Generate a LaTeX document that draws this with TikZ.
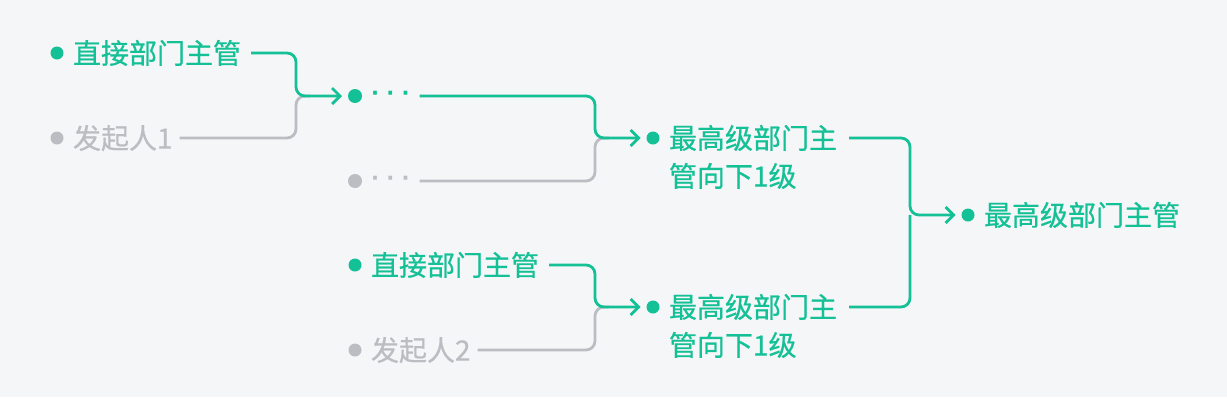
\documentclass[tikz,border=0pt]{standalone}
\usepackage{fontspec}
\setmainfont{Noto Sans CJK SC}[FakeBold=0.6]
\newfontfamily\dotfont{DejaVu Sans}
\usetikzlibrary{arrows.meta}
\definecolor{bgc}{HTML}{F5F6F8}
\definecolor{grc}{HTML}{14C095}
\definecolor{gyc}{HTML}{BCBDC2}
\begin{document}
\begin{tikzpicture}[x=1pt,y=-1pt,
  every node/.style={inner sep=0pt, outer sep=0pt},
  txt/.style={anchor=base west, font=\fontsize{28}{38}\selectfont},
  gtxt/.style={txt, text=grc},
  ytxt/.style={txt, text=gyc},
  ell/.style={anchor=west, font=\dotfont\bfseries\fontsize{21}{24}\selectfont},
  gdot/.style={circle, fill=grc, minimum size=13pt},
  ydot/.style={circle, fill=gyc, minimum size=13pt},
  gline/.style={draw=grc, line width=2.8pt, rounded corners=9pt},
  yline/.style={draw=gyc, line width=2.8pt, rounded corners=9pt},
  arr/.style={-{Straight Barb[length=8pt,width=16pt]}}
]
\fill[bgc] (0,0) rectangle (1227,397);

% nodes
\node[gdot] (Ad) at (57,53) {};
\node[gtxt] (A) at (73,63.6) {直接部门主管};
\node[ydot] (Bd) at (57,138) {};
\node[ytxt] (B) at (73,148.6) {发起人1};

\node[gdot, minimum size=14pt] (Cd) at (355,96) {};
\node[ell, text=grc] (C) at (371,96) {· · ·};
\node[ydot, minimum size=14pt] (Dd) at (355,181) {};
\node[ell, text=gyc] (D) at (371,181) {· · ·};

\node[gdot] (Ed) at (355,265) {};
\node[gtxt] (E) at (371,275.6) {直接部门主管};
\node[ydot] (Fd) at (355,350) {};
\node[ytxt] (F) at (371,360.6) {发起人2};

\node[gdot] (Gd) at (653,138) {};
\node[gtxt, align=left] (G) at (669,186.6) {最高级部门主\\管向下1级};
\node[gdot] (Hd) at (653,307) {};
\node[gtxt, align=left] (H) at (669,355.6) {最高级部门主\\管向下1级};

\node[gdot] (Id) at (968,215) {};
\node[gtxt] (I) at (984,225.6) {最高级部门主管};

% junctions
\coordinate (J1) at (296,96);
\coordinate (J2) at (595,138);
\coordinate (J3) at (595,307);
\coordinate (J4) at (910,215);

% gray connectors first
\draw[yline] ([xshift=7pt,yshift=10.6pt]B.base east) -| (J1) -- ++(14,0);
\draw[yline] ([xshift=10pt]D.east) -| (J2) -- ++(14,0);
\draw[yline] ([xshift=7pt,yshift=10.6pt]F.base east) -| (J3) -- ++(14,0);

% green connectors
\draw[gline,arr] ([xshift=10pt,yshift=10.6pt]A.base east) -| (J1) -- ([xshift=-6pt]Cd.west);
\draw[gline,arr] ([xshift=10pt]C.east) -| (J2) -- ([xshift=-6pt]Gd.west);
\draw[gline,arr] ([xshift=10pt,yshift=10.6pt]E.base east) -| (J3) -- ([xshift=-6pt]Hd.west);
\draw[gline,arr] ([xshift=12pt,yshift=48.6pt]G.base east) -| (J4) -- ([xshift=-6pt]Id.west);
\draw[gline] ([xshift=12pt,yshift=48.6pt]H.base east) -| (J4);
\end{tikzpicture}
\end{document}
